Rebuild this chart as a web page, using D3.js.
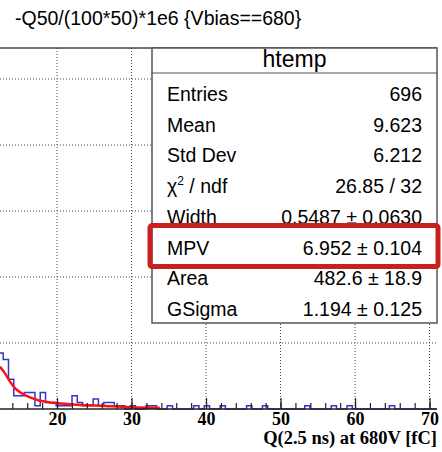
<!DOCTYPE html>
<html>
<head>
<meta charset="utf-8">
<script src="https://cdn.jsdelivr.net/npm/d3@7"></script>
<style>
body { margin: 0; background: #fff; }
svg { display: block; }
</style>
</head>
<body>
<div class="chart"></div>
<script>
// histogram: 100 bins over 0..71, only bins from 17 on are inside the visible crop
const binWidth = 0.71;
const firstBin = 17;
const counts = [17, 15, 9, 4, 4, 5, 5, 1, 5, 2, 2, 1, 1, 1, 4, 2, 1, 1, 3, 1,
  2, 2, 1, 1, 0, 1, 0, 0, 1, 1, 0, 0, 1, 0, 0, 0, 0, 1, 0, 1,
  0, 0, 1, 0, 0, 0, 0, 1, 0, 0, 1, 0, 0, 0, 0, 0, 0, 0, 1, 0,
  0, 0, 0, 1, 0, 0, 1, 0, 0, 0, 0, 0, 0, 0, 1, 0, 0, 0, 0, 0,
  0, 0, 0];

// langaus fit
const fitX = [12.35, 13.02, 13.69, 14.36, 15.03, 16.38, 17.7, 19.5, 22.2, 25.8, 29.8, 33.8];
const fitY = [12.8, 10.8, 8.3, 6.3, 5.1, 3.5, 2.5, 1.9, 1.4, 1.0, 0.5, 0.3];

const xMajor = [20, 30, 40, 50, 60, 70];
const xMinor = d3.range(12, 72, 2);
const yGrid = [20, 40, 60, 80, 100];

const statsLabels = ['Entries', 'Mean', 'Std Dev', 'chi2', 'Width', 'MPV', 'Area', 'GSigma'];
const statsValues = ['696', '9.623', '6.212', '26.85 / 32', '0.5487 \u00b1 0.0630',
  '6.952 \u00b1 0.104', '482.6 \u00b1 18.9', '1.194 \u00b1 0.125'];
const highlightRow = 5;

const w = 442;
const h = 452;
const svg = d3.select('.chart')
  .append('svg')
  .attr('width', w)
  .attr('height', h);

const x = d3.scaleLinear().domain([0, 71]).range([-92, 437]);
const y = d3.scaleLinear().domain([0, 109.4]).range([409, 48]);

svg.append('text')
  .attr('x', 15)
  .attr('y', 25)
  .attr('font-family', 'Liberation Sans, Arial, sans-serif')
  .attr('font-size', 19.5)
  .text('-Q50/(100*50)*1e6 {Vbias==680}');

// grid
svg.selectAll('line.vgrid')
  .data(xMajor)
  .enter()
  .append('line')
  .attr('class', 'vgrid')
  .attr('x1', d => x(d)).attr('x2', d => x(d))
  .attr('y1', y.range()[1]).attr('y2', y.range()[0])
  .attr('stroke', '#444')
  .attr('stroke-width', 1)
  .attr('stroke-dasharray', '1,2');

svg.selectAll('line.hgrid')
  .data(yGrid)
  .enter()
  .append('line')
  .attr('class', 'hgrid')
  .attr('x1', 0).attr('x2', x.range()[1])
  .attr('y1', d => y(d)).attr('y2', d => y(d))
  .attr('stroke', '#444')
  .attr('stroke-width', 1)
  .attr('stroke-dasharray', '1,2');

// frame top
svg.append('line')
  .attr('x1', 0).attr('x2', x.range()[1])
  .attr('y1', y.range()[1]).attr('y2', y.range()[1])
  .attr('stroke', '#444')
  .attr('stroke-width', 1.5);

// histogram outline
const pts = [];
counts.forEach((c, i) => {
  const lo = (firstBin + i) * binWidth;
  pts.push([lo, c], [lo + binWidth, c]);
});
const histLine = d3.line()
  .x(d => x(d[0]))
  .y(d => y(d[1]));
svg.append('path')
  .attr('d', histLine(pts))
  .attr('fill', 'none')
  .attr('stroke', '#3535c8')
  .attr('stroke-width', 1.5);

// fit
const fit = fitX.map((v, i) => [v, fitY[i]]);
svg.append('path')
  .attr('d', d3.line().x(d => x(d[0])).y(d => y(d[1])).curve(d3.curveMonotoneX)(fit))
  .attr('fill', 'none')
  .attr('stroke', '#ff1010')
  .attr('stroke-width', 2.5);

// axis
const axisG = svg.append('g').attr('transform', 'translate(0,409)');
axisG.call(d3.axisBottom(x).tickValues(xMinor).tickSize(-6).tickFormat(''));
axisG.call(g => g.select('.domain').remove());
const majorG = svg.append('g').attr('transform', 'translate(0,409)');
majorG.call(d3.axisBottom(x).tickValues(xMajor).tickSize(-11).tickPadding(3));
majorG.select('.domain').remove();
svg.selectAll('.tick line').attr('stroke', '#222').attr('stroke-width', 1.2);
majorG.selectAll('.tick text')
  .attr('font-family', 'Liberation Serif, Times New Roman, serif')
  .attr('font-weight', 'bold')
  .attr('font-size', 18)
  .attr('fill', '#000');
svg.append('line')
  .attr('x1', 0).attr('x2', x.range()[1])
  .attr('y1', 409).attr('y2', 409)
  .attr('stroke', '#222')
  .attr('stroke-width', 1.5);

svg.append('text')
  .attr('x', 437)
  .attr('y', 444)
  .attr('text-anchor', 'end')
  .attr('font-family', 'Liberation Serif, Times New Roman, serif')
  .attr('font-weight', 'bold')
  .attr('font-size', 18.5)
  .text('Q(2.5 ns) at 680V [fC]');

// stats box
const box = { x0: 152, x1: 437, y0: 48, y1: 323, sep: 73 };
svg.append('rect')
  .attr('x', box.x0).attr('y', box.y0)
  .attr('width', box.x1 - box.x0).attr('height', box.y1 - box.y0)
  .attr('fill', '#fff')
  .attr('stroke', '#555')
  .attr('stroke-width', 1.5);
svg.append('line')
  .attr('x1', box.x0).attr('x2', box.x1)
  .attr('y1', box.sep).attr('y2', box.sep)
  .attr('stroke', '#555')
  .attr('stroke-width', 1.2);
svg.append('text')
  .attr('x', (box.x0 + box.x1) / 2)
  .attr('y', 67)
  .attr('text-anchor', 'middle')
  .attr('font-family', 'Liberation Sans, Arial, sans-serif')
  .attr('font-size', 23)
  .text('htemp');

const row = d3.scaleLinear().domain([0, 7]).range([101, 316]);
const sans = 'Liberation Sans, Arial, sans-serif';

statsLabels.forEach((lab, i) => {
  const t = svg.append('text')
    .attr('x', 167)
    .attr('y', row(i))
    .attr('font-family', sans)
    .attr('font-size', 19.5);
  if (lab === 'chi2') {
    t.append('tspan').text('\u03c7');
    t.append('tspan').attr('font-size', 12).attr('dy', -8).text('2');
    t.append('tspan').attr('dy', 8).text(' / ndf');
  } else {
    t.text(lab);
  }
  svg.append('text')
    .attr('x', 422)
    .attr('y', row(i))
    .attr('text-anchor', 'end')
    .attr('font-family', sans)
    .attr('font-size', 19.5)
    .text(statsValues[i]);
});

// highlight around MPV
svg.append('rect')
  .attr('x', 150)
  .attr('y', row(highlightRow) - 29)
  .attr('width', 288)
  .attr('height', 41)
  .attr('rx', 2)
  .attr('fill', 'none')
  .attr('stroke', '#c8201f')
  .attr('stroke-width', 5);
</script>
</body>
</html>
